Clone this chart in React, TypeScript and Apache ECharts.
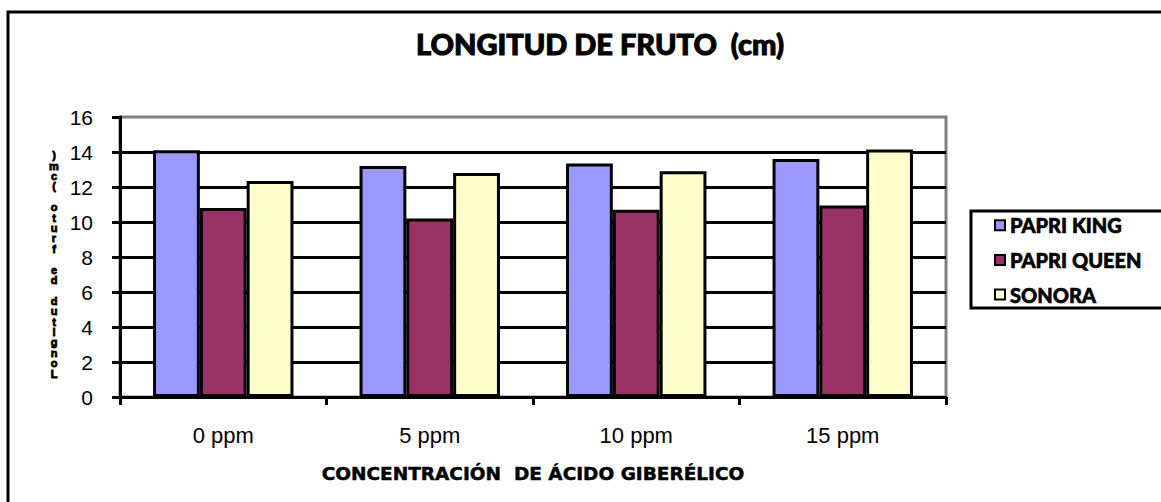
import React, { useEffect, useRef } from "react";
import * as echarts from "echarts";

const categories = ["0 ppm", "5 ppm", "10 ppm", "15 ppm"];
const seriesNames = ["PAPRI KING", "PAPRI QUEEN", "SONORA"];
const papriKing = [14.1, 13.2, 13.35, 13.6];
const papriQueen = [10.8, 10.2, 10.7, 10.95];
const sonora = [12.35, 12.8, 12.9, 14.15];
const seriesColors = ["#9999FF", "#993366", "#FFFFCC"];
const yTitle = "Longitud de fruto (cm)";

export default function App() {
  const ref = useRef<HTMLDivElement>(null);
  useEffect(() => {
    if (!ref.current) return;
    const chart = echarts.init(ref.current, null, { renderer: "svg" });
    const values = [papriKing, papriQueen, sonora];
    const stacked = yTitle.split("").reverse().join("\n");
    chart.setOption({
      animation: false,
      backgroundColor: "#ffffff",
      title: {
        text: "LONGITUD DE FRUTO  (cm)",
        left: 595,
        top: 24,
        textAlign: "center",
        textStyle: {
          fontFamily: "Lato",
          fontWeight: 900,
          fontSize: 29,
          color: "#000",
          textBorderColor: "#000",
          textBorderWidth: 1,
        },
      },
      legend: {
        orient: "vertical",
        left: 989,
        top: 210,
        itemWidth: 10,
        itemHeight: 10,
        itemGap: 14,
        icon: "rect",
        data: seriesNames,
        itemStyle: { borderColor: "#000", borderWidth: 2 },
        textStyle: {
          fontFamily: "Lato",
          fontWeight: 900,
          fontSize: 20,
          color: "#000",
          lineHeight: 20,
          padding: [0, 0, 0, 0],
          textBorderColor: "#000",
          textBorderWidth: 0.6,
        },
      },
      grid: {
        left: 120,
        right: 215,
        top: 117,
        bottom: 105,
        show: true,
        borderColor: "#808080",
        borderWidth: 3,
        backgroundColor: "transparent",
      },
      xAxis: {
        type: "category",
        data: categories,
        name: "CONCENTRACIÓN  DE ÁCIDO GIBERÉLICO",
        nameLocation: "middle",
        nameGap: 67,
        nameTextStyle: {
          fontFamily: "DejaVu Sans",
          fontWeight: "bold",
          fontSize: 18.5,
          color: "#000",
          textBorderColor: "#000",
          textBorderWidth: 0.5,
        },
        axisLine: { lineStyle: { color: "#000", width: 3 } },
        axisTick: { show: true, alignWithLabel: false, length: 8, lineStyle: { color: "#000", width: 3 } },
        axisLabel: { margin: 27, fontFamily: "Liberation Sans", fontSize: 22, color: "#000" },
      },
      yAxis: {
        type: "value",
        min: 0,
        max: 16,
        interval: 2,
        axisLine: { show: true, lineStyle: { color: "#000", width: 3 } },
        axisTick: { show: true, length: 8, lineStyle: { color: "#000", width: 3 } },
        axisLabel: { margin: 27, fontFamily: "Liberation Sans", fontSize: 21, color: "#000" },
        splitLine: { show: true, showMaxLine: false, lineStyle: { color: "#000", width: 3 } },
      },
      graphic: [
        {
          type: "rect",
          shape: { x: 8, y: 12, width: 1200, height: 600 },
          style: { fill: "none", stroke: "#000", lineWidth: 3 },
          silent: true,
        },
        {
          type: "rect",
          shape: { x: 971, y: 211, width: 250, height: 97 },
          style: { fill: "none", stroke: "#000", lineWidth: 3 },
          silent: true,
        },
        {
          type: "text",
          x: 54,
          y: 150,
          style: {
            text: stacked,
            fontFamily: "Liberation Sans",
            fontWeight: "bold",
            fontSize: 11,
            lineHeight: 10.4,
            fill: "#000",
            stroke: "#000",
            lineWidth: 0.8,
            align: "center",
            verticalAlign: "top",
          },
        },
      ],
      series: seriesNames.map((name, i) => ({
        name,
        type: "bar",
        data: values[i],
        barGap: "0%",
        barCategoryGap: "32%",
        itemStyle: { color: seriesColors[i], borderColor: "#000", borderWidth: 3 },
      })),
    });
    return () => chart.dispose();
  }, []);
  return (
    <div
      ref={ref}
      style={{ position: "fixed", left: 0, top: 0, width: 1161, height: 502 }}
    />
  );
}
